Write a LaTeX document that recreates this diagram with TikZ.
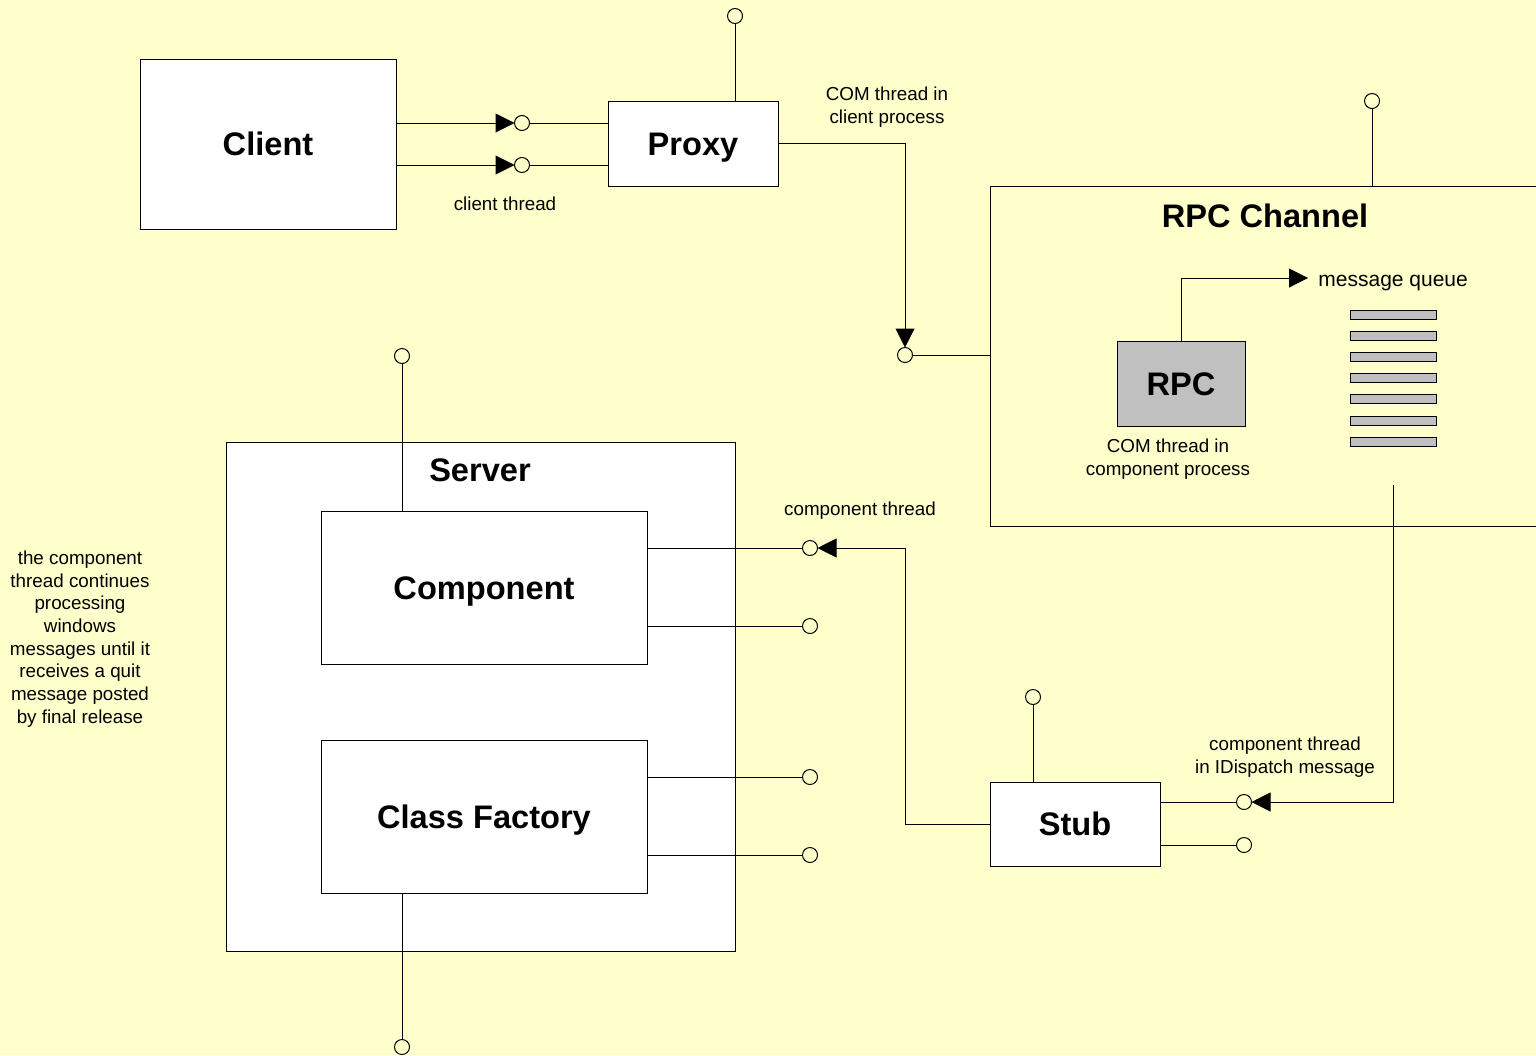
\documentclass[tikz,border=0pt]{standalone}
\usepackage{fontspec}
\setmainfont{Liberation Sans}
\usetikzlibrary{arrows.meta}
\definecolor{bg}{HTML}{FFFFCC}
\definecolor{qgray}{HTML}{C0C0C0}
\begin{document}
\begin{tikzpicture}[x=0.5pt,y=-0.5pt,
 line/.style={draw=black,line width=0.5pt},
 arr/.style={line,-{Triangle[length=9.5pt,width=9.5pt]}},
 box/.style={draw=black,line width=0.5pt,fill=white,inner sep=0pt,outer sep=0pt,text height=11.7pt,text depth=0pt,font=\bfseries\fontsize{16.3}{19}\selectfont},
 port/.style={circle,draw=black,line width=0.5pt,fill=bg,minimum size=7.5pt,inner sep=0pt,outer sep=0pt},
 lbl/.style={align=center,font=\fontsize{9.4}{11.4}\selectfont,inner sep=0pt},
 big/.style={inner sep=0pt,font=\bfseries\fontsize{16.3}{19}\selectfont},
 qbar/.style={draw=black,line width=0.5pt,fill=qgray,minimum width=43pt,minimum height=4.5pt,inner sep=0pt,outer sep=0pt}
]
\useasboundingbox (0,0) rectangle (1536,1055);
\fill[bg] (0,0) rectangle (1536,1055);
\clip (0,0) rectangle (1536,1055);

% boxes
\node[box,minimum width=128pt,minimum height=85pt] (client) at (268,144) {Client};
\node[box,minimum width=85pt,minimum height=42.5pt] (proxy) at (693,143.5) {Proxy};
\node[box,fill=bg,minimum width=285pt,minimum height=170pt] (rpcch) at (1275,356) {};
\node[big] (rpcchlbl) at (1265,216) {RPC Channel};
\node[box,fill=qgray,minimum width=64pt,minimum height=42.5pt] (rpc) at (1181,383.5) {RPC};
\node[box,minimum width=85pt,minimum height=42pt] (stub) at (1075,824) {Stub};
\node[box,minimum width=254.5pt,minimum height=254.5pt] (server) at (480.5,696.5) {};
\node[big] (serverlbl) at (480,470) {Server};
\node[box,minimum width=163pt,minimum height=76.5pt] (comp) at (484,587.5) {Component};
\node[box,minimum width=163pt,minimum height=76.5pt] (cf) at (484,816.5) {Class Factory};

% queue
\foreach \i in {0,...,6} {
  \node[qbar] (q\i) at (1393,{314.5+\i*21.2}) {};
}

% ports
\node[port] (p1) at (522,123) {};
\node[port] (p2) at (522,165) {};
\node[port] (ptop) at (735,16) {};
\node[port] (p3) at (905,355) {};
\node[port] (prc) at (1372,101) {};
\node[port] (s1) at (1244,802) {};
\node[port] (s2) at (1244,845) {};
\node[port] (stop) at (1033,697) {};
\node[port] (c1) at (810,548) {};
\node[port] (c2) at (810,626) {};
\node[port] (c3) at (810,777) {};
\node[port] (c4) at (810,855) {};
\node[port] (comptop) at (402,356) {};
\node[port] (cfbot) at (402,1047) {};

\coordinate (mqtip) at (1308,278);
\coordinate (qstart) at (1393,485);
\coordinate (bend) at (905,548);

% connectors
\draw[arr] (client.east |- p1) -- (p1);
\draw[arr] (client.east |- p2) -- (p2);
\draw[line] (p1) -- (proxy.west |- p1);
\draw[line] (p2) -- (proxy.west |- p2);
\draw[line] (proxy.north -| ptop) -- (ptop);
\draw[arr] (proxy.east) -| (p3);
\draw[line] (p3) -- (rpcch.west |- p3);
\draw[line] (rpcch.north -| prc) -- (prc);
\draw[arr] (rpc.north) |- (mqtip);
\draw[arr] (qstart) |- (s1);
\draw[line] (stub.east |- s1) -- (s1);
\draw[line] (stub.east |- s2) -- (s2);
\draw[line] (stub.north -| stop) -- (stop);
\draw[arr] (stub.west) -| (bend) -- (c1);
\draw[line] (comp.east |- c1) -- (c1);
\draw[line] (comp.east |- c2) -- (c2);
\draw[line] (cf.east |- c3) -- (c3);
\draw[line] (cf.east |- c4) -- (c4);
\draw[line] (comp.north -| comptop) -- (comptop);
\draw[line] (cf.south -| cfbot) -- (cfbot);

% labels
\node[lbl] (l1) at (887,107) {COM thread in\\client process};
\node[lbl] (l2) at (505,204) {client thread};
\node[lbl] (l3) at (1168,459.5) {COM thread in\\component process};
\node[lbl,anchor=west,font=\fontsize{10.5}{12.5}\selectfont] (l4) at (1318,283) {message queue};
\node[lbl] (l5) at (860,511) {component thread};
\node[lbl] (l6) at (1285,757.5) {component thread\\in IDispatch message};
\node[lbl,font=\fontsize{9.4}{11.35}\selectfont] (l7) at (80,639) {the component\\thread continues\\processing\\windows\\messages until it\\receives a quit\\message posted\\by final release};
\end{tikzpicture}
\end{document}
